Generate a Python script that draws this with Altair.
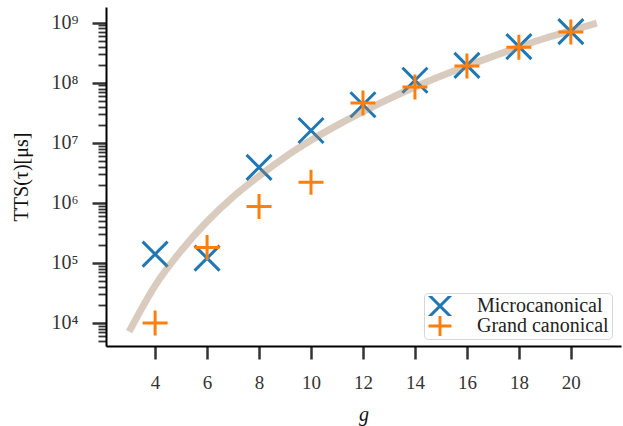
import altair as alt
import pandas as pd

# ---- data ----
g_points = [4, 6, 8, 10, 12, 14, 16, 18, 20]
micro_tts = [1.4e5, 1.2e5, 3.9e6, 1.6e7, 4.3e7, 1.1e8, 1.95e8, 4.0e8, 7.1e8]
grand_tts = [1.0e4, 1.8e5, 8.7e5, 2.2e6, 4.6e7, 8.5e7, 1.9e8, 3.9e8, 7.0e8]

fit_g = [3, 4, 5, 6, 7, 8, 9, 10, 11, 12, 13, 14, 15, 16, 17, 18, 19, 20, 21]
fit_tts = [7.2e3, 4.2e4, 1.6e5, 4.9e5, 1.26e6, 2.8e6, 5.8e6, 1.1e7, 1.95e7,
           3.3e7, 5.4e7, 8.5e7, 1.29e8, 1.9e8, 2.75e8, 3.9e8, 5.5e8, 7.4e8, 9.8e8]

series_names = ["Microcanonical", "Grand canonical"]
x_ticks = [4, 6, 8, 10, 12, 14, 16, 18, 20]
y_major = [1e4, 1e5, 1e6, 1e7, 1e8, 1e9]

# minor log ticks
y_minor = [m * 10 ** e for e in range(3, 10) for m in range(2, 10)]
y_tick_values = sorted(set(y_major + [v for v in y_minor if 4.14e3 <= v <= 1.82e9]))

micro_df = pd.DataFrame({"g": g_points, "tts": micro_tts, "series": series_names[0]})
grand_df = pd.DataFrame({"g": g_points, "tts": grand_tts, "series": series_names[1]})
fit_df = pd.DataFrame({"g": fit_g, "tts": fit_tts})

FONT = "Liberation Serif"
X_PATH = "M-1,-1L1,1M-1,1L1,-1"
PLUS_PATH = "M-1,0L1,0M0,-1L0,1"

is_major = "abs(log(datum.value)/LN10 - round(log(datum.value)/LN10)) < 0.001"

x_scale = alt.Scale(domain=[2.11, 21.93], nice=False, zero=False)
y_scale = alt.Scale(type="log", domain=[4.14e3, 1.824e9], nice=False)

common_axis = dict(grid=False, domainColor="black", domainWidth=2, tickColor="#333",
                   labelFont=FONT, labelColor="#333", titleColor="#111",
                   titleFont=FONT, titleFontWeight="normal", labelFlush=False)

x_axis = alt.Axis(values=x_ticks, title="g", titleFontStyle="italic",
                  titleFontSize=20, titlePadding=12, labelFontSize=19, labelPadding=14,
                  tickSize=13, tickWidth=2.5, **common_axis)
y_axis = alt.Axis(values=y_tick_values, title="TTS(τ)[μs]",
                  titleFontSize=20, titlePadding=20,
                  labelExpr=is_major + " ? '10' + ['⁰','¹','²','³','⁴','⁵','⁶','⁷','⁸','⁹'][round(log(datum.value)/LN10)] : ''",
                  labelOverlap=False, labelFontSize=20, labelPadding=14,
                  tickSize={"condition": {"test": is_major, "value": 14}, "value": 8},
                  tickWidth={"condition": {"test": is_major, "value": 2.5}, "value": 1.8},
                  **common_axis)

color = alt.Color("series:N", scale=alt.Scale(domain=series_names, range=["#1f77b4", "#ff7f0e"]),
                  legend=alt.Legend(title=None, orient="none", legendX=318, legendY=286,
                                    labelFont=FONT, labelFontSize=20, labelColor="#222",
                                    labelOffset=24, symbolSize=529, symbolStrokeWidth=3,
                                    clipHeight=20, rowPadding=0, padding=3,
                                    strokeColor="#d6d6d6",
                                    fillColor="rgba(255,255,255,0.8)", cornerRadius=4,
                                    symbolType="stroke"))
shape = alt.Shape("series:N", scale=alt.Scale(domain=series_names, range=[X_PATH, PLUS_PATH]),
                  legend=None)

def points(df):
    return alt.Chart(df).mark_point(filled=False, size=625, strokeWidth=3, opacity=1).encode(
        x=alt.X("g:Q", scale=x_scale, axis=x_axis),
        y=alt.Y("tts:Q", scale=y_scale, axis=y_axis),
        color=color,
        shape=shape,
    )

curve = alt.Chart(fit_df).mark_line(color="#a08060", opacity=0.4, strokeWidth=7,
                                    interpolate="monotone", strokeCap="butt").encode(
    x=alt.X("g:Q", scale=x_scale, axis=x_axis),
    y=alt.Y("tts:Q", scale=y_scale, axis=y_axis),
)

chart = alt.layer(points(micro_df), curve, points(grand_df)).properties(
    width=515, height=339,
    background="white",
    autosize=alt.AutoSizeParams(type="none"),
    padding={"left": 106, "top": 7, "right": 2, "bottom": 80},
).configure_view(stroke=None)

chart.save("out.html", embed_options={"renderer": "svg", "actions": False})
